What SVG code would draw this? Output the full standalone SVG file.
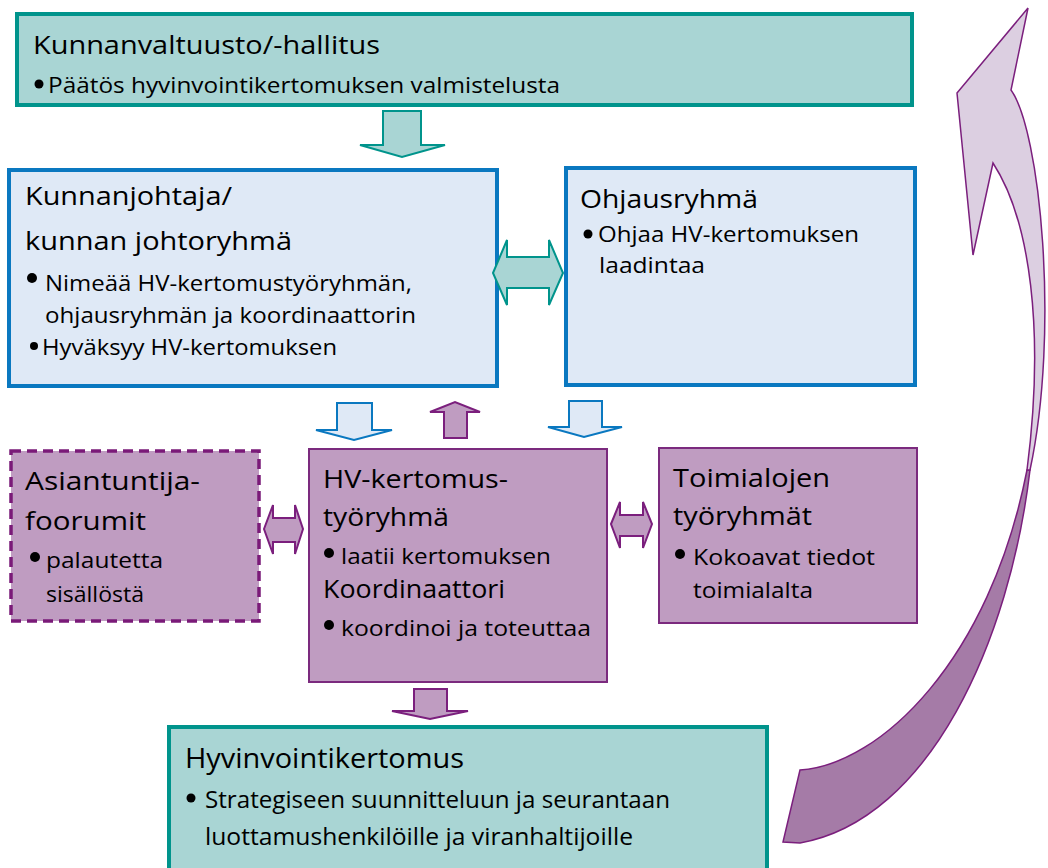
<svg xmlns="http://www.w3.org/2000/svg" width="1048" height="868" viewBox="0 0 1048 868">
  <style>
    text { font-family: "Open Sans", "Noto Sans", "Liberation Sans", sans-serif; fill: #000; }
    .title { font-size: 26px; }
    .item { font-size: 22px; }
    .cond-title { font-size: 28px; }
    .cond-item { font-size: 24px; }
    .teal { fill: #a9d5d4; stroke: #00948c; stroke-width: 4; }
    .blue { fill: #dfe9f6; stroke: #0a78c0; stroke-width: 4; }
    .purple { fill: #bf9cc1; stroke: #7b2a7e; stroke-width: 2; }
    .dashed { fill: #bf9cc1; stroke: #7a1a78; stroke-width: 3.5; stroke-dasharray: 10 6; }
    .arr-teal { fill: #a9d5d4; stroke: #00948c; stroke-width: 2; }
    .arr-blue { fill: #dfe9f6; stroke: #0a78c0; stroke-width: 2; }
    .arr-purple { fill: #bf9cc1; stroke: #7b1f7d; stroke-width: 2; }
    .ribbon-light { fill: #dccfe1; stroke: #7b1f7d; stroke-width: 1.5; }
    .ribbon-dark { fill: #a57ba7; stroke: #7b1f7d; stroke-width: 1.5; }
    .dot { fill: #000; }
  </style>

  <!-- Kunnanvaltuusto / -hallitus -->
  <g id="valtuusto">
    <rect class="teal" x="17" y="14" width="895" height="91"/>
    <text class="title" x="33" y="54" textLength="347" lengthAdjust="spacingAndGlyphs">Kunnanvaltuusto/-hallitus</text>
    <circle class="dot" cx="39" cy="84" r="4.5"/>
    <text class="item" x="48" y="93" textLength="512" lengthAdjust="spacingAndGlyphs">Päätös hyvinvointikertomuksen valmistelusta</text>
  </g>

  <!-- Kunnanjohtaja / kunnan johtoryhmä -->
  <g id="kunnanjohtaja">
    <rect class="blue" x="9" y="170" width="488" height="216"/>
    <text class="title" x="25" y="205" textLength="207" lengthAdjust="spacingAndGlyphs">Kunnanjohtaja/</text>
    <text class="title" x="25" y="250" textLength="267" lengthAdjust="spacingAndGlyphs">kunnan johtoryhmä</text>
    <circle class="dot" cx="32" cy="278" r="5"/>
    <text class="item" x="45" y="291" textLength="367" lengthAdjust="spacingAndGlyphs">Nimeää HV-kertomustyöryhmän,</text>
    <text class="item" x="45" y="323" textLength="371" lengthAdjust="spacingAndGlyphs">ohjausryhmän ja koordinaattorin</text>
    <circle class="dot" cx="34" cy="346" r="4"/>
    <text class="item" x="42" y="355" textLength="295" lengthAdjust="spacingAndGlyphs">Hyväksyy HV-kertomuksen</text>
  </g>

  <!-- Ohjausryhmä -->
  <g id="ohjausryhma">
    <rect class="blue" x="566" y="168" width="349" height="217"/>
    <text class="title" x="580" y="208" textLength="178" lengthAdjust="spacingAndGlyphs">Ohjausryhmä</text>
    <circle class="dot" cx="588" cy="234" r="4.5"/>
    <text class="item" x="598" y="242" textLength="261" lengthAdjust="spacingAndGlyphs">Ohjaa HV-kertomuksen</text>
    <text class="item" x="599" y="273" textLength="106" lengthAdjust="spacingAndGlyphs">laadintaa</text>
  </g>

  <!-- Asiantuntijafoorumit -->
  <g id="asiantuntijafoorumit">
    <rect class="dashed" x="11" y="451" width="248" height="170"/>
    <text class="title" x="25" y="490" textLength="175" lengthAdjust="spacingAndGlyphs">Asiantuntija-</text>
    <text class="title" x="25" y="530" textLength="121" lengthAdjust="spacingAndGlyphs">foorumit</text>
    <circle class="dot" cx="35" cy="557" r="5"/>
    <text class="item" x="46" y="568" textLength="117" lengthAdjust="spacingAndGlyphs">palautetta</text>
    <text class="item" x="46" y="602" textLength="98" lengthAdjust="spacingAndGlyphs">sisällöstä</text>
  </g>

  <!-- HV-kertomustyöryhmä ja koordinaattori -->
  <g id="tyoryhma">
    <rect class="purple" x="309" y="449" width="298" height="233"/>
    <text class="title" x="323" y="488" textLength="185" lengthAdjust="spacingAndGlyphs">HV-kertomus-</text>
    <text class="title" x="323" y="526" textLength="126" lengthAdjust="spacingAndGlyphs">työryhmä</text>
    <circle class="dot" cx="329" cy="553" r="5"/>
    <text class="item" x="341" y="564" textLength="210" lengthAdjust="spacingAndGlyphs">laatii kertomuksen</text>
    <text class="title" x="323" y="598" textLength="182" lengthAdjust="spacingAndGlyphs">Koordinaattori</text>
    <circle class="dot" cx="329" cy="625" r="5"/>
    <text class="item" x="341" y="636" textLength="250" lengthAdjust="spacingAndGlyphs">koordinoi ja toteuttaa</text>
  </g>

  <!-- Toimialojen työryhmät -->
  <g id="toimialat">
    <rect class="purple" x="659" y="448" width="258" height="175"/>
    <text class="title" x="673" y="487" textLength="157" lengthAdjust="spacingAndGlyphs">Toimialojen</text>
    <text class="title" x="673" y="525" textLength="139" lengthAdjust="spacingAndGlyphs">työryhmät</text>
    <circle class="dot" cx="680" cy="554" r="5"/>
    <text class="item" x="693" y="565" textLength="182" lengthAdjust="spacingAndGlyphs">Kokoavat tiedot</text>
    <text class="item" x="693" y="598" textLength="120" lengthAdjust="spacingAndGlyphs">toimialalta</text>
  </g>

  <!-- Hyvinvointikertomus (condensed lettering) -->
  <g id="hyvinvointikertomus">
    <rect class="teal" x="169" y="727" width="598" height="160"/>
    <text class="cond-title" x="185" y="768" textLength="279" lengthAdjust="spacingAndGlyphs">Hyvinvointikertomus</text>
    <circle class="dot" cx="191" cy="798" r="4.5"/>
    <text class="cond-item" x="205" y="808" textLength="465" lengthAdjust="spacingAndGlyphs">Strategiseen suunnitteluun ja seurantaan</text>
    <text class="cond-item" x="205" y="845" textLength="428" lengthAdjust="spacingAndGlyphs">luottamushenkilöille ja viranhaltijoille</text>
  </g>

  <!-- Block arrows between the boxes -->
  <g id="connectors">
    <!-- valtuusto -> kunnanjohtaja -->
    <path class="arr-teal" d="M383,111 H421 V145 H445 L402,157 L360,145 H383 Z"/>
    <!-- kunnanjohtaja <-> ohjausryhmä -->
    <path class="arr-teal" d="M493,273 L507,240 V257 H549 V240 L563,273 L549,305 V288 H507 V305 Z"/>
    <!-- kunnanjohtaja -> työryhmä -->
    <path class="arr-blue" d="M337,403 H372 V430 H392 L354,440 L316,430 H337 Z"/>
    <!-- työryhmä -> kunnanjohtaja -->
    <path class="arr-purple" d="M444,438 V412 H430 L455,402 L480,412 H467 V438 Z"/>
    <!-- ohjausryhmä -> työryhmä -->
    <path class="arr-blue" d="M569,401 H602 V427 H622 L584,437 L548,427 H569 Z"/>
    <!-- asiantuntijafoorumit <-> työryhmä -->
    <path class="arr-purple" d="M264,529 L273,505 V518 H295 V505 L303,529 L295,554 V542 H273 V554 Z"/>
    <!-- työryhmä <-> toimialat -->
    <path class="arr-purple" d="M611,524 L620,502 V515 H643 V502 L652,524 L643,548 V536 H620 V548 Z"/>
    <!-- työryhmä -> hyvinvointikertomus -->
    <path class="arr-purple" d="M414,689 H447 V711 H468 L430,719 L392,711 H414 Z"/>
    <!-- feedback loop: hyvinvointikertomus back to valtuusto -->
    <path class="ribbon-dark" d="M1030,470 C1010,640 930,820 800,843 L783,842 L800,770 C880,765 990,660 1027,470 Z"/>
    <path class="ribbon-light" d="M1028,8 L957,93 L973,255 L993,163 C1030,220 1045,330 1027,470 L1030,470 C1060,330 1040,130 1011,90 Z"/>
  </g>
</svg>
